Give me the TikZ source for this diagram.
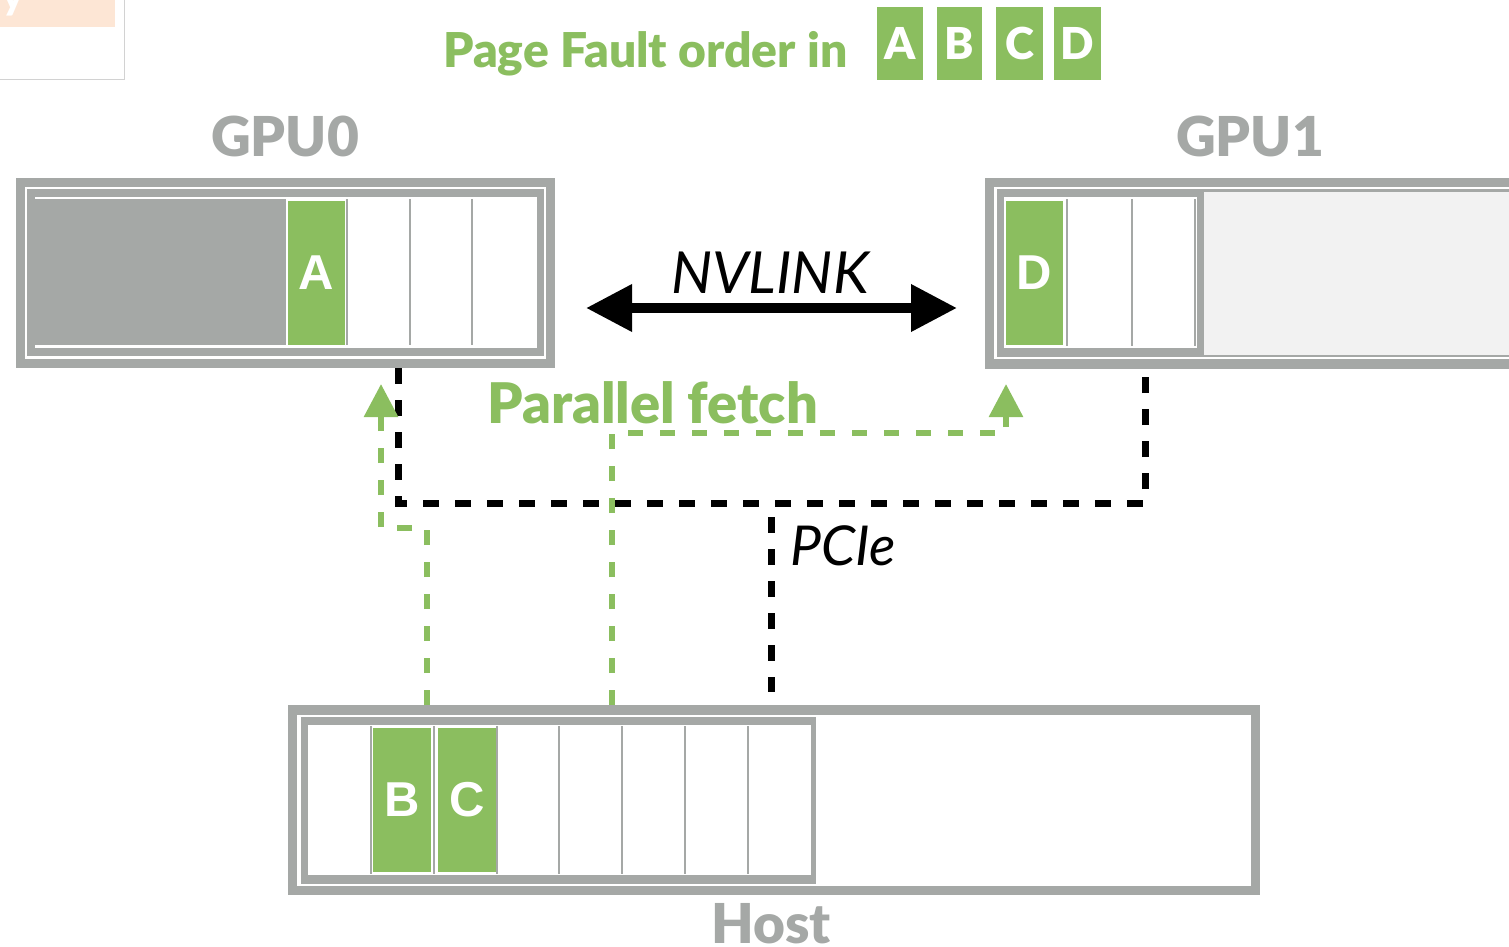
\documentclass[tikz,border=0pt]{standalone}
\usepackage{fontspec}
\setmainfont{Lato}
\newfontfamily\heavyfont{Lato Black}
\newfontfamily\cellfont{Liberation Sans}
\usetikzlibrary{arrows.meta}

\definecolor{pgreen}{RGB}{139,190,95}
\definecolor{fgray}{RGB}{165,168,166}
\definecolor{lgray}{RGB}{242,242,242}
\definecolor{peach}{RGB}{253,230,213}
\definecolor{edgegray}{RGB}{210,210,210}

% rectangle node given by its corners: name, x1, y1, x2, y2, style, text
\newcommand\rectnode[7]{%
  \node[#6, inner sep=0pt, outer sep=0pt,
        minimum width={(#4)-(#2)}, minimum height={(#5)-(#3)}]
        (#1) at ({((#2)+(#4))/2},{((#3)+(#5))/2}) {#7};}

\tikzset{
  cell/.style={fill=pgreen, text=white, font=\cellfont\bfseries\fontsize{49}{49}\selectfont},
  orderbox/.style={fill=pgreen, text=white, font=\heavyfont\fontsize{44}{44}\selectfont},
  frame/.style={fill=fgray},
  divider/.style={draw=fgray, line width=2.5pt},
  devlabel/.style={text=fgray, font=\heavyfont\fontsize{55}{55}\selectfont, anchor=base, inner sep=0pt},
  pcie/.style={draw=black, line width=7pt, dash pattern=on 16pt off 16pt},
  fetch/.style={draw=pgreen, line width=6pt, dash pattern=on 15pt off 17pt,
                -{Triangle[length=33pt,width=33pt]}},
  nvarrow/.style={draw=black, line width=10pt,
                  {Triangle[length=46pt,width=45pt]}-{Triangle[length=46pt,width=45pt]}},
}

\begin{document}
\begin{tikzpicture}[x=1pt,y=-1pt]
\useasboundingbox (0,0) rectangle (1509,947);
\clip (0,0) rectangle (1509,947);

% corner fragment
\fill[peach] (0,0) rectangle (115,27);
\node[text=white, font=\heavyfont\fontsize{40}{40}\selectfont, anchor=base, inner sep=0pt] (frag) at (13,10) {y};
\draw[edgegray, line width=1pt] (0,80) -- (124,80) -- (124,0);

% heading
\node[anchor=base west, inner sep=0pt, text=pgreen, font=\heavyfont\fontsize{48}{48}\selectfont] (title) at (443,68) {Page Fault order in};
\rectnode{oa}{877}{7}{923}{80}{orderbox}{A}
\rectnode{ob}{937}{7}{982}{80}{orderbox}{B}
\rectnode{oc}{996}{7}{1043}{80}{orderbox}{C}
\rectnode{od}{1054}{7}{1101}{80}{orderbox}{D}

% GPU0 memory
\node[devlabel] (gpu0lbl) at (285,157) {GPU0};
\rectnode{gpu0}{16}{178}{555}{368}{frame}{}
\fill[white] (25,187) rectangle (546,359);
\fill[fgray] (27,189) rectangle (544,356);
\fill[white] (35,197) rectangle (537,348);
\fill[fgray] (27,199) rectangle (286,345);
\rectnode{pa}{288}{201}{345}{345}{cell}{A}
\foreach \x in {347,410,472} \draw[divider] (\x,199) -- (\x,345);

% GPU1 memory
\node[devlabel] (gpu1lbl) at (1250,157) {GPU1};
\rectnode{gpu1}{985}{178}{1540}{369}{frame}{}
\fill[white] (994,187) rectangle (1540,359);
\fill[fgray] (997,189) rectangle (1540,357);
\fill[lgray] (1204,192) rectangle (1540,355);
\fill[white] (1004,197) rectangle (1197,348);
\rectnode{pd}{1006}{201}{1063}{345}{cell}{D}
\foreach \x in {1067,1132,1195} \draw[divider] (\x,199) -- (\x,346);

% Host memory
\node[devlabel] (hostlbl) at (771,943) {Host};
\rectnode{host}{288}{705}{1260}{895}{frame}{}
\fill[white] (297,715) rectangle (1251,886);
\fill[fgray] (301,717) rectangle (816,884);
\fill[white] (308,725) rectangle (811,875);
\rectnode{pb}{373}{728}{431}{872}{cell}{B}
\rectnode{pc}{438}{728}{496}{872}{cell}{C}
\foreach \x in {371,434,497,559,622,685,748} \draw[divider] (\x,726) -- (\x,874);

% connection points
\coordinate (x398) at (398,0);
\coordinate (x1145) at (1145,0);
\coordinate (busR) at (1145,503);
\coordinate (pcieTop) at (771,517);
\coordinate (pcieBot) at (771,692);
\coordinate (x427) at (427,0);
\coordinate (x612) at (612,0);
\coordinate (tipA) at (381,384);
\coordinate (tipD) at (1006,384);

% NVLINK
\coordinate (nvL) at (586,308);
\coordinate (nvR) at (957,308);
\draw[nvarrow] (nvL) -- (nvR);
\node[anchor=base, inner sep=0pt, font=\itshape\fontsize{58}{58}\selectfont] (nvlbl) at (770,293) {NVLINK};

% PCIe bus
\draw[pcie] (gpu0.south -| x398) |- (busR) -- (gpu1.south -| x1145);
\draw[pcie] (pcieTop) -- (pcieBot);
\node[anchor=base west, inner sep=0pt, font=\itshape\fontsize{55}{55}\selectfont] (pcielbl) at (790,565) {PCIe};

% parallel fetch paths
\draw[fetch] (host.north -| x427) -- (427,528) -- (381,528) -- (tipA);
\draw[fetch] (host.north -| x612) -- (612,433) -- (1006,433) -- (tipD);
\node[anchor=base west, inner sep=0pt, text=pgreen, font=\heavyfont\fontsize{56}{56}\selectfont] (fetchlbl) at (487,423) {Parallel fetch};
\end{tikzpicture}
\end{document}
